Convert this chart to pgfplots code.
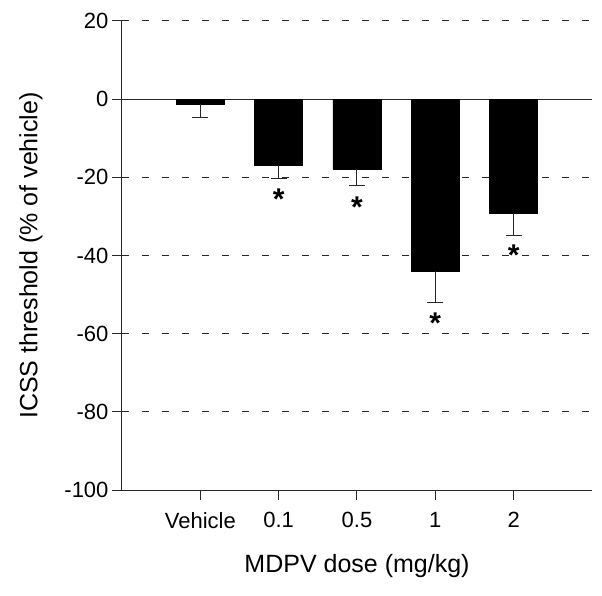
\documentclass[border=0pt]{standalone}
\usepackage{pgfplots}
\pgfplotsset{compat=1.18}
\usepackage{fontspec}
\setmainfont{Liberation Sans}

\begin{document}
\begin{tikzpicture}
\begin{axis}[
  scale only axis,
  width=470pt, height=469pt,
  xmin=0, xmax=6,
  ymin=-100, ymax=20,
  axis x line*=bottom,
  axis y line*=left,
  axis line style={black!85, line width=1pt},
  xtick={1,2,3,4,5},
  xticklabels={Vehicle,0.1,0.5,1,2},
  ytick={-100,-80,...,20},
  tick align=outside,
  major tick length=10pt,
  tick style={black!85, line width=1pt},
  ymajorgrids,
  major grid style={black!85, line width=1pt, dash pattern=on 7pt off 13pt},
  extra y ticks={0},
  extra y tick labels={},
  extra y tick style={major tick length=0pt, major grid style={solid, black!85, line width=1pt}},
  ticklabel style={font=\fontsize{22}{26}\selectfont},
  /pgf/number format/assume math mode=true,
  xticklabel style={yshift=-9pt},
  xlabel={MDPV dose (mg/kg)},
  ylabel={ICSS threshold (\% of vehicle)},
  label style={font=\fontsize{25}{30}\selectfont},
  xlabel style={at={(axis description cs:0.5,0)}, anchor=center, yshift=-76pt},
  ylabel style={yshift=5pt},
  clip=false,
]
% bars with one-sided (downward) error bars
\addplot[ybar, bar width=48pt, bar shift=0pt, fill=black, draw=black,
  error bars/.cd, y dir=minus, y explicit,
  error mark=-,
  error bar style={line width=1pt, black!85},
  error mark options={rotate=90, line width=1pt, black!85, mark size=8pt}]
  coordinates {
  (1,-1.2)  -= (0,3.5)
  (2,-16.8) -= (0,3.6)
  (3,-17.9) -= (0,4.1)
  (4,-44.0) -= (0,7.9)
  (5,-29.2) -= (0,5.8)
};
% significance asterisks
\addplot[only marks, mark=none,
  nodes near coords={\textbf{*}},
  nodes near coords style={font=\fontsize{30}{30}\selectfont, anchor=center, inner sep=0pt, yshift=-4pt}]
  coordinates {
  (2,-24.5)
  (3,-26.6)
  (4,-56.3)
  (5,-39.0)
};
\end{axis}
\path[use as bounding box] (-122pt,-105pt) rectangle (480pt,490pt);
\end{tikzpicture}
\end{document}
